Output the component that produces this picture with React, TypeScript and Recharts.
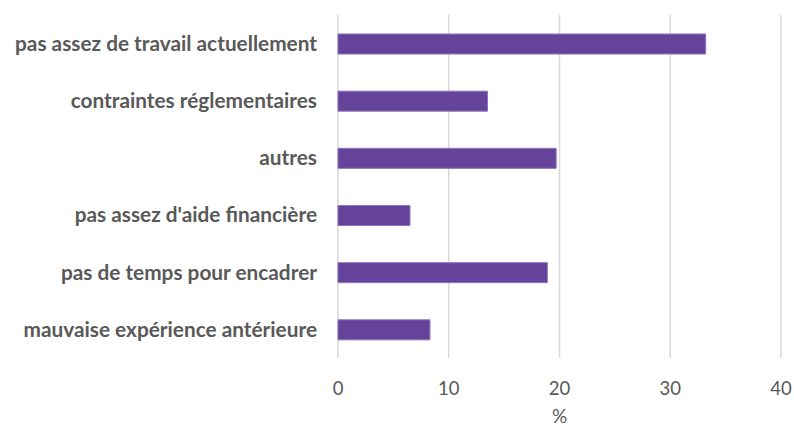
import React from 'react';
import { BarChart, Bar, XAxis, YAxis, CartesianGrid } from 'recharts';

const categories = [
  'pas assez de travail actuellement',
  'contraintes réglementaires',
  'autres',
  "pas assez d'aide financière",
  'pas de temps pour encadrer',
  'mauvaise expérience antérieure',
];
const values = [33.2, 13.5, 19.7, 6.5, 18.9, 8.3];
const xTicks = [0, 10, 20, 30, 40];

const data = categories.map((name, i) => ({ name, value: values[i] }));

export default function App() {
  return (
    <div style={{ position: 'absolute', left: 0, top: 0, width: 794, height: 428, background: '#fff', fontFamily: 'Lato, sans-serif' }}>
      <BarChart
        width={794}
        height={428}
        data={data}
        layout="vertical"
        margin={{ top: 15, right: 13, bottom: 0, left: 0 }}
        barSize={20}
      >
        <CartesianGrid horizontal={false} stroke="#d9d9d9" strokeWidth={1.5} />
        <XAxis
          type="number"
          domain={[0, 40]}
          ticks={xTicks}
          axisLine={false}
          tickLine={false}
          tickSize={0}
          tickMargin={24}
          height={70}
          tick={{ fill: '#595959', fontSize: 18.5 }}
          label={{ value: '%', position: 'insideBottom', offset: 5, fill: '#595959', fontSize: 19 }}
        />
        <YAxis
          type="category"
          dataKey="name"
          width={338}
          axisLine={false}
          tickLine={false}
          tickSize={0}
          tickMargin={21}
          tick={{ fill: '#595959', fontSize: 20.8, fontWeight: 700 }}
        />
        <Bar dataKey="value" fill="#65439a" stroke="#8c73bd" strokeWidth={1} isAnimationActive={false} />
      </BarChart>
    </div>
  );
}
